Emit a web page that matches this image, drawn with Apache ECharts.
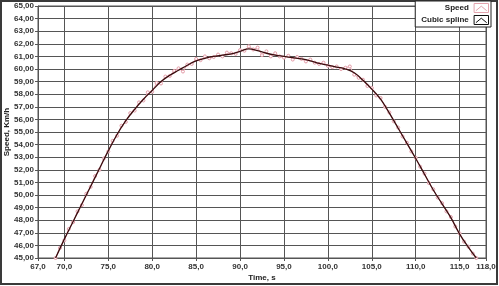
<!DOCTYPE html>
<html><head><meta charset="utf-8">
<script src="https://cdn.jsdelivr.net/npm/echarts@6/dist/echarts.min.js"></script>
<style>html,body{margin:0;padding:0;background:#fff}#c{width:499px;height:286px}</style>
</head><body><div id="c"></div>
<script>
// Cubic spline (smoothed) values
const splineTime = [69.0,70,71,72,73,74,75,76,77,78,79,80,81,82,83,84,85,86,87,88,89,90,91,92,93,94,95,96,97,98,99,100,101,102,103,104,105,106,107,108,109,110,111,112,113,114,115,116,116.9];
const splineSpeed = [45.0,46.5,47.9,49.3,50.7,52.1,53.5,54.8,55.9,56.8,57.6,58.3,59.0,59.5,59.9,60.3,60.65,60.85,61.0,61.1,61.2,61.4,61.6,61.45,61.25,61.1,61.0,60.9,60.8,60.65,60.45,60.3,60.15,60.0,59.7,59.1,58.4,57.6,56.5,55.3,54.1,52.9,51.65,50.4,49.3,48.2,46.9,45.85,45.0];
// Raw measured speed
const rawTime = [69.0,69.5,70.0,70.5,71.0,71.5,72.0,72.5,73.0,73.5,74.0,74.5,75.0,75.5,76.0,76.5,77.0,77.5,78.0,78.5,79.0,79.5,80.0,80.5,81.0,81.5,82.0,82.5,83.0,83.5,84.0,84.5,85.0,85.5,86.0,86.5,87.0,87.5,88.0,88.5,89.0,89.5,90.0,90.5,91.0,91.5,92.0,92.5,93.0,93.5,94.0,94.5,95.0,95.5,96.0,96.5,97.0,97.5,98.0,98.5,99.0,99.5,100.0,100.5,101.0,101.5,102.0,102.5,103.0,103.5,104.0,104.5,105.0,105.5,106.0,106.5,107.0,107.5,108.0,108.5,109.0,109.5,110.0,110.5,111.0,111.5,112.0,112.5,113.0,113.5,114.0,114.5,115.0,115.5,116.0,116.5,116.9];
const rawSpeed = [45.0,45.8,46.4,47.3,47.85,48.7,49.2,50.1,50.65,51.5,52.0,52.9,53.45,54.3,54.7,55.5,55.8,56.5,56.7,57.35,57.5,58.15,58.2,58.9,58.85,59.4,59.45,59.85,60.05,59.8,60.35,60.4,60.8,60.7,61.0,60.85,60.95,61.15,61.0,61.3,61.25,61.2,61.5,61.45,61.8,61.55,61.7,61.1,61.4,61.0,61.25,61.0,60.9,61.05,60.75,60.95,60.8,60.6,60.75,60.5,60.4,60.5,60.25,60.15,60.2,60.0,60.1,60.2,59.55,59.3,59.15,58.65,58.5,57.9,57.7,57.0,56.55,55.85,55.35,54.65,54.15,53.45,52.95,52.25,51.7,50.95,50.45,49.8,49.35,48.7,48.25,47.5,46.95,46.3,45.9,45.35,45.0];
const xTicks = [67,70,75,80,85,90,95,100,105,110,115,118];
const seriesNames = ['Speed','Cubic spline'];

const pair = (xs, ys) => xs.map((x, i) => [x, ys[i]]);
const lbl = {fontFamily:'Liberation Sans', fontSize:8, fontWeight:'bold', color:'#333'};
const chart = echarts.init(document.getElementById('c'), null, {renderer:'canvas'});
chart.setOption({
  animation:false,
  backgroundColor:'#fff',
  grid:{left:38, right:13, top:6, bottom:28, containLabel:false, outerBoundsMode:'none', show:true, borderColor:'#555', borderWidth:1},
  xAxis:{type:'value', min:67, max:118,
    name:'Time, s', nameLocation:'middle', nameGap:16, nameMoveOverlap:false,
    nameTextStyle:{fontFamily:'Liberation Sans', fontSize:8, fontWeight:'bold', color:'#222'},
    axisLine:{show:true, lineStyle:{color:'#555'}},
    axisTick:{show:true, length:3, customValues:xTicks, lineStyle:{color:'#555'}},
    axisLabel:Object.assign({customValues:xTicks, margin:5, formatter:v=>v.toFixed(1).replace('.',',')}, lbl),
    splitLine:{show:true, lineStyle:{color:'#555', width:1}}
  },
  yAxis:{type:'value', min:45, max:65, interval:1,
    name:'Speed, Km/h', nameLocation:'middle', nameGap:27, nameMoveOverlap:false,
    nameTextStyle:{fontFamily:'Liberation Sans', fontSize:8, fontWeight:'bold', color:'#222'},
    axisLine:{show:true, lineStyle:{color:'#555'}},
    axisTick:{show:true, length:3, lineStyle:{color:'#555'}},
    axisLabel:Object.assign({margin:4, formatter:v=>v.toFixed(2).replace('.',',')}, lbl),
    splitLine:{show:true, lineStyle:{color:'#555', width:1}}
  },
  legend:{right:8, top:1, orient:'vertical', align:'right', itemWidth:15, itemHeight:9, itemGap:2,
    padding:[2,2,2,6], backgroundColor:'#fff', borderColor:'#222', borderWidth:1, borderRadius:0,
    textStyle:{fontFamily:'Liberation Sans', fontSize:8, fontWeight:'bold', color:'#222', width:45, align:'left'},
    data:[
      {name:seriesNames[0], icon:'path://M0,0L16,0L16,10L0,10ZM2,8L8,3L14,8', itemStyle:{color:'transparent', borderColor:'#e3a3ad', borderWidth:1}},
      {name:seriesNames[1], icon:'path://M0,0L16,0L16,10L0,10ZM2,8L8,3L14,8', itemStyle:{color:'transparent', borderColor:'#111', borderWidth:1}}
    ]
  },
  series:[
    {name:seriesNames[0], type:'line', data:pair(rawTime, rawSpeed), symbol:'circle', symbolSize:3,
      showSymbol:true, itemStyle:{color:'#fff', borderColor:'#e39aa6', borderWidth:1},
      lineStyle:{color:'#e5a5b0', width:1}, z:2},
    {name:seriesNames[1], type:'line', data:pair(splineTime, splineSpeed), smooth:0.4, symbol:'none',
      lineStyle:{color:'#3a0c0e', width:1.3}, z:3}
  ],
  graphic:[{type:'rect', shape:{x:1, y:1, width:496, height:283}, style:{fill:'none', stroke:'#3a3a3a', lineWidth:2}, silent:true}]
});
</script></body></html>
